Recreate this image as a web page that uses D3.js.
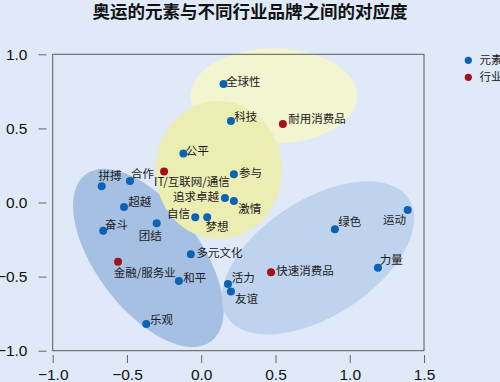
<!DOCTYPE html>
<html><head><meta charset="utf-8">
<script src="https://cdn.jsdelivr.net/npm/d3@7"></script>
<style>html,body{margin:0;padding:0;background:#dfe9f7;} svg{display:block}</style>
</head><body>
<svg id="chart" width="500" height="382"></svg>
<script>
// ---------- data ----------
const chartTitle = "奥运的元素与不同行业品牌之间的对应度";
const legendLabels = ["元素", "行业"];

const elementNames = ["全球性","科技","公平","参与","追求卓越","激情","梦想","自信","拼搏","合作","超越","奋斗","团结","多元文化","和平","活力","友谊","乐观","绿色","运动","力量"];
const elementX =     [0.15, 0.20, -0.12, 0.22, 0.16, 0.22, 0.04, -0.04, -0.67, -0.48, -0.52, -0.66, -0.30, -0.07, -0.15, 0.18, 0.20, -0.37, 0.90, 1.39, 1.19];
const elementY =     [0.80, 0.55, 0.33, 0.19, 0.03, 0.01, -0.10, -0.10, 0.11, 0.145, -0.03, -0.19, -0.14, -0.35, -0.53, -0.55, -0.60, -0.82, -0.18, -0.05, -0.44];

const industryNames = ["耐用消费品","IT/互联网/通信","金融/服务业","快速消费品"];
const industryX =     [0.55, -0.25, -0.56, 0.47];
const industryY =     [0.53, 0.21, -0.40, -0.47];

const xTicks = [-1.0, -0.5, 0.0, 0.5, 1.0, 1.5];
const yTicks = [-1.0, -0.5, 0.0, 0.5, 1.0];

// cluster regions (data units)
const groupCenterX = [-0.356, 0.786, 0.489, 0.117];
const groupCenterY = [-0.374, -0.374, 0.719, 0.219];
const groupRadiusA = [0.703, 0.730, 0.561, 0.426];
const groupRadiusB = [0.351, 0.392, 0.321, 0.466];
const groupAngle   = [53, -33, 0, 0];

// ---------- styling / layout ----------
const W = 500, H = 382;
const groupFill = ["#a6c0e4", "#bfd2ee", "#f3f4d0", "#ecedb3"];
const colElement = "#0b63b6", colIndustry = "#a30f1b";
const labelLayout = {
  "全球性":[2.5,1.7,"start"], "科技":[3.3,0,"start"], "耐用消费品":[5.3,-1,"start"],
  "公平":[2.4,1,"start"], "参与":[5,3,"start"], "IT/互联网/通信":[-10,15,"start"],
  "追求卓越":[-6,3.3,"end"], "激情":[4.4,12,"start"], "梦想":[-1.6,14,"start"],
  "自信":[-5.3,0.3,"end"], "拼搏":[-3.3,-6,"start"], "合作":[1,-3,"start"],
  "超越":[4.3,-0.7,"start"], "奋斗":[1.7,-2,"start"], "团结":[-18,16.7,"start"],
  "金融/服务业":[-4.3,15.7,"start"], "多元文化":[5.7,3,"start"], "和平":[4.4,0.7,"start"],
  "活力":[3.7,-1.7,"start"], "友谊":[4,11.3,"start"], "乐观":[3.7,0,"start"],
  "快速消费品":[5.3,2.7,"start"], "绿色":[3.4,-2.7,"start"], "运动":[-1.7,13.7,"end"],
  "力量":[1.7,-4,"start"]
};

const svg = d3.select("#chart");
svg.append("rect").attr("width", W).attr("height", H).attr("fill", "#dfe9f7");

const x = d3.scaleLinear().domain([-1, 1.5]).range([52.7, 424]);
const y = d3.scaleLinear().domain([-1, 1]).range([350.7, 54.3]);

// title
svg.append("text").attr("x", 250).attr("y", 17.8)
  .attr("text-anchor", "middle")
  .attr("font-family", "'Noto Sans CJK SC', sans-serif")
  .attr("font-weight", "bold").attr("font-size", 17.5).attr("fill", "#111")
  .text(chartTitle);

// cluster ellipses
const groups = groupCenterX.map((cx, i) => ({cx, cy: groupCenterY[i], a: groupRadiusA[i], b: groupRadiusB[i], ang: groupAngle[i], fill: groupFill[i]}));
svg.append("g").selectAll("ellipse").data(groups).join("ellipse")
  .attr("cx", d => x(d.cx)).attr("cy", d => y(d.cy))
  .attr("rx", d => x(d.a) - x(0)).attr("ry", d => y(0) - y(d.b))
  .attr("transform", d => `rotate(${d.ang},${x(d.cx)},${y(d.cy)})`)
  .attr("fill", d => d.fill);

// frame
svg.append("rect")
  .attr("x", x(-1)).attr("y", y(1))
  .attr("width", x(1.5) - x(-1)).attr("height", y(-1) - y(1))
  .attr("fill", "none").attr("stroke", "#5a5a5a").attr("stroke-width", 1);

// axes
const fmt = d3.format(".1f");
const yAxis = svg.append("g").attr("transform", "translate(46.5,0)")
  .call(d3.axisLeft(y).tickValues(yTicks).tickFormat(fmt).tickSizeInner(8).tickSizeOuter(0).tickPadding(11));
const xAxis = svg.append("g").attr("transform", "translate(0,355)")
  .call(d3.axisBottom(x).tickValues(xTicks).tickFormat(fmt).tickSizeInner(8).tickSizeOuter(0).tickPadding(5.6));
[yAxis, xAxis].forEach(g => {
  g.select(".domain").remove();
  g.selectAll(".tick line").attr("stroke", "#666");
  g.selectAll(".tick text").attr("fill", "#111")
    .attr("font-family", "'Liberation Sans', Arial, sans-serif").attr("font-size", 15.5);
});

// points
const points = elementNames.map((n, i) => ({name: n, vx: elementX[i], vy: elementY[i], col: colElement}))
  .concat(industryNames.map((n, i) => ({name: n, vx: industryX[i], vy: industryY[i], col: colIndustry})));

svg.append("g").selectAll("circle").data(points).join("circle")
  .attr("cx", d => x(d.vx)).attr("cy", d => y(d.vy)).attr("r", 4)
  .attr("fill", d => d.col);

svg.append("g").selectAll("text").data(points).join("text")
  .attr("x", d => x(d.vx) + labelLayout[d.name][0])
  .attr("y", d => y(d.vy) + labelLayout[d.name][1])
  .attr("text-anchor", d => labelLayout[d.name][2])
  .attr("font-family", "'Noto Sans CJK SC', sans-serif")
  .attr("font-size", 11.5).attr("fill", "#1a1a1a")
  .text(d => d.name);

// legend
const legend = svg.append("g");
legendLabels.forEach((lab, i) => {
  const cy = 60.3 + i * 17;
  legend.append("circle").attr("cx", 468.3).attr("cy", cy).attr("r", 3.6)
    .attr("fill", i === 0 ? colElement : colIndustry);
  legend.append("text").attr("x", 479.5).attr("y", cy).attr("dy", "0.36em")
    .attr("font-family", "'Noto Sans CJK SC', sans-serif").attr("font-size", 11.5)
    .attr("fill", "#1a1a1a").text(lab);
});
</script>
</body></html>
